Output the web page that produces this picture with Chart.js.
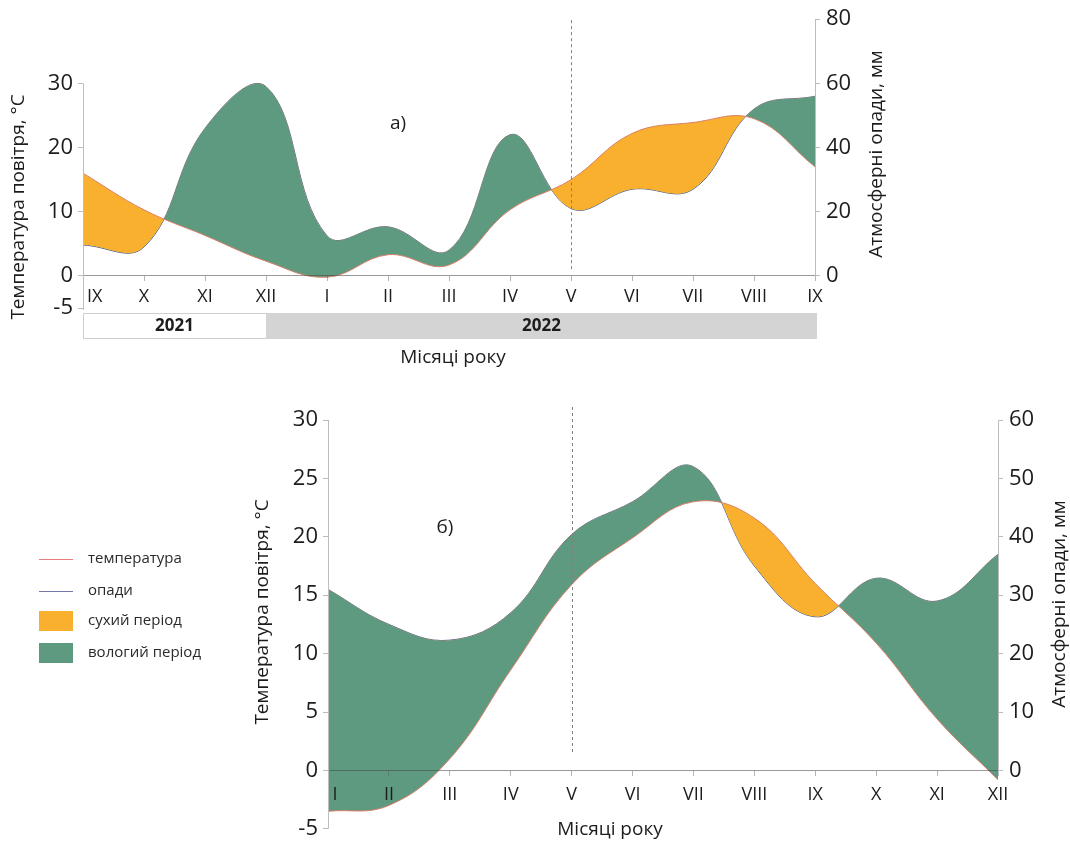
<!DOCTYPE html>
<html>
<head>
<meta charset="utf-8">
<script src="https://cdn.jsdelivr.net/npm/chart.js@4.4.0/dist/chart.umd.min.js"></script>
<style>
html,body{margin:0;padding:0;background:#fff;}
body{width:1070px;height:848px;position:relative;overflow:hidden;}
canvas{position:absolute;left:0;}
#ca{top:0;}
#cb{top:380px;}
</style>
</head>
<body>
<canvas id="ca" width="1070" height="380" style="width:1070px;height:380px"></canvas>
<canvas id="cb" width="1070" height="468" style="width:1070px;height:468px"></canvas>
<script>
// ---------- data ----------
const monthsA = ['IX','X','XI','XII','I','II','III','IV','V','VI','VII','VIII','IX'];
const tempA   = [16.0, 10.3, 6.3, 2.3, -0.2, 3.3, 1.7, 10.3, 15.0, 22.2, 23.9, 24.5, 17.0];
const precA   = [9.6, 9.0, 46, 59, 12.5, 15.3, 8.0, 44, 21, 27, 27, 52, 56];
const tempTicksA = [-5, 0, 10, 20, 30];
const precTicksA = [0, 20, 40, 60, 80];
const yearsA = ['2021', '2022'];
const yearStartIdx = [0, 3];

const monthsB = ['I','II','III','IV','V','VI','VII','VIII','IX','X','XI','XII'];
const tempB   = [-3.5, -3.0, 1.0, 8.6, 15.9, 19.9, 23.0, 21.6, 16.0, 10.9, 4.4, -0.8];
const precB   = [31, 25, 22.3, 27, 40.4, 46, 52, 35, 26.3, 32.9, 29, 37];
const tempTicksB = [-5, 0, 5, 10, 15, 20, 25, 30];
const precTicksB = [0, 10, 20, 30, 40, 50, 60];

const legendItems = ['температура', 'опади', 'сухий період', 'вологий період'];

// ---------- style ----------
const FONT = "'Open Sans', 'DejaVu Sans', sans-serif";
const ORANGE = '#F8B02E';
const GREEN = '#5E9A80';
const TEMP_LINE = '#D9806A';
const PREC_LINE = '#5A5C8A';
const AXIS = '#bdbdbd';
const TEXT = '#1c1c1c';

function seg(ctx, x0, y0, x1, y1) {
  ctx.beginPath(); ctx.moveTo(x0, y0); ctx.lineTo(x1, y1); ctx.stroke();
}
function vtext(ctx, text, cx, cy, size) {
  ctx.save();
  ctx.translate(cx, cy); ctx.rotate(-Math.PI / 2);
  ctx.font = size + 'px ' + FONT; ctx.fillStyle = TEXT;
  ctx.textAlign = 'center'; ctx.textBaseline = 'middle';
  ctx.fillText(text, 0, 0);
  ctx.restore();
}
function htext(ctx, text, cx, cy, size, bold) {
  ctx.save();
  ctx.font = (bold ? 'bold ' : '') + size + 'px ' + FONT; ctx.fillStyle = TEXT;
  ctx.textAlign = 'center'; ctx.textBaseline = 'middle';
  ctx.fillText(text, cx, cy);
  ctx.restore();
}

const decoPlugin = {
  id: 'deco',
  afterDraw(chart, args, opts) { if (opts && opts.fn) opts.fn(chart); }
};

function makeChart(canvas, c) {
  return new Chart(canvas, {
    type: 'line',
    data: {
      labels: c.labels,
      datasets: [
        { label: 'температура', data: c.temp, yAxisID: 'y', borderColor: TEMP_LINE, borderWidth: 1,
          pointRadius: 0, tension: 0.4, fill: { target: 1, above: ORANGE, below: GREEN } },
        { label: 'опади', data: c.prec, yAxisID: 'y1', borderColor: PREC_LINE, borderWidth: 1,
          pointRadius: 0, tension: 0.4, fill: false }
      ]
    },
    options: {
      responsive: false, animation: false, devicePixelRatio: 1,
      layout: { padding: { left: 0, right: 0, top: c.area.top, bottom: canvas.height - c.area.bottom } },
      plugins: { legend: { display: false }, tooltip: { enabled: false }, deco: { fn: c.deco } },
      scales: {
        x: {
          position: { y: 0 }, offset: false,
          grid: { display: true, drawOnChartArea: false, tickLength: 5, color: 'rgba(90,90,90,0.45)', z: 1 },
          border: { display: true, color: 'rgba(70,70,70,0.55)', width: 1, z: 1 },
          ticks: { autoSkip: false, maxRotation: 0, padding: c.xPad, color: TEXT, z: 1,
                   font: { family: FONT, size: 18 },
                   callback: (v, i) => (i === 0 ? ' '.repeat(c.firstPad) : '') + c.labels[i] }
        },
        y: {
          position: 'left', min: c.tMin, max: c.tMax,
          afterBuildTicks: s => { s.ticks = c.tTicks.map(v => ({ value: v })); },
          afterFit: s => { s.width = c.area.left; },
          grid: { drawOnChartArea: false, tickLength: 5, color: AXIS },
          border: { display: false },
          ticks: { padding: 5, color: TEXT, font: { family: FONT, size: 22 } }
        },
        y1: {
          position: 'right', min: c.pMin, max: c.pMax,
          afterBuildTicks: s => { s.ticks = c.pTicks.map(v => ({ value: v })); },
          afterFit: s => { s.width = canvas.width - c.area.right; },
          grid: { drawOnChartArea: false, tickLength: 5, color: AXIS },
          border: { display: false },
          ticks: { padding: 6, color: TEXT, font: { family: FONT, size: 22 } }
        }
      }
    },
    plugins: [decoPlugin]
  });
}

// ---------- chart а ----------
makeChart(document.getElementById('ca'), {
  labels: monthsA, temp: tempA, prec: precA,
  tMin: -5, tMax: 40, pMin: -10, pMax: 80,
  tTicks: tempTicksA, pTicks: precTicksA,
  area: { left: 83, right: 815, top: 19, bottom: 308 },
  xPad: 5, firstPad: 5,
  deco(chart) {
    const ctx = chart.ctx, a = chart.chartArea, { x, y, y1 } = chart.scales;
    ctx.save();
    ctx.strokeStyle = AXIS; ctx.lineWidth = 1;
    seg(ctx, a.left + 0.5, y.getPixelForValue(tempTicksA[tempTicksA.length - 1]), a.left + 0.5, y.getPixelForValue(tempTicksA[0]) + 2);
    seg(ctx, a.right + 0.5, y1.getPixelForValue(precTicksA[precTicksA.length - 1]), a.right + 0.5, y1.getPixelForValue(0));
    // dashed line at V
    const xv = Math.round(x.getPixelForValue(8)) + 0.5;
    ctx.strokeStyle = '#808080'; ctx.setLineDash([3, 3]);
    seg(ctx, xv, a.top + 1, xv, y.getPixelForValue(0) - 6);
    ctx.setLineDash([]);
    // year bars
    const top = a.bottom + 5, h = 26;
    const xs = [x.getPixelForValue(yearStartIdx[0]), x.getPixelForValue(yearStartIdx[1]), x.getPixelForValue(monthsA.length - 1) + 2];
    ctx.fillStyle = '#ffffff'; ctx.strokeStyle = '#cfcfcf';
    ctx.fillRect(xs[0], top, xs[1] - xs[0], h);
    ctx.strokeRect(xs[0] + 0.5, top + 0.5, xs[1] - xs[0], h - 1);
    ctx.fillStyle = '#d4d4d4';
    ctx.fillRect(xs[1], top, xs[2] - xs[1], h);
    ctx.restore();
    htext(ctx, yearsA[0], (xs[0] + xs[1]) / 2, top + h / 2, 17, true);
    htext(ctx, yearsA[1], (xs[1] + xs[2]) / 2, top + h / 2, 17, true);
    htext(ctx, 'Місяці року', 453, 358, 19);
    htext(ctx, 'а)', 398, 124, 19);
    vtext(ctx, 'Температура повітря, °C', 19, 207, 19);
    vtext(ctx, 'Атмосферні опади, мм', 877, 154, 19);
  }
});

// ---------- chart б ----------
makeChart(document.getElementById('cb'), {
  labels: monthsB, temp: tempB, prec: precB,
  tMin: -5, tMax: 30, pMin: -10, pMax: 60,
  tTicks: tempTicksB, pTicks: precTicksB,
  area: { left: 328, right: 998, top: 40, bottom: 460 },
  xPad: 9, firstPad: 3,
  deco(chart) {
    const ctx = chart.ctx, a = chart.chartArea, { x, y, y1 } = chart.scales;
    ctx.save();
    ctx.strokeStyle = AXIS; ctx.lineWidth = 1;
    seg(ctx, a.left + 0.5, y.getPixelForValue(tempTicksB[tempTicksB.length - 1]), a.left + 0.5, y.getPixelForValue(tempTicksB[0]));
    seg(ctx, a.right + 0.5, y1.getPixelForValue(precTicksB[precTicksB.length - 1]), a.right + 0.5, y1.getPixelForValue(0) + 4);
    const xv = Math.round(x.getPixelForValue(4)) + 0.5;
    ctx.strokeStyle = '#808080'; ctx.setLineDash([3, 3]);
    seg(ctx, xv, a.top - 13, xv, y.getPixelForValue(0) - 18);
    ctx.setLineDash([]);
    // legend
    const lx0 = 39, lx1 = 73, tx = 88;
    const rows = [179, 211, 241, 273];
    ctx.lineWidth = 1;
    ctx.strokeStyle = '#E57E7A'; seg(ctx, lx0, rows[0] + 0.5, lx1, rows[0] + 0.5);
    ctx.strokeStyle = '#7477AA'; seg(ctx, lx0, rows[1] + 0.5, lx1, rows[1] + 0.5);
    ctx.fillStyle = ORANGE; ctx.fillRect(lx0, rows[2] - 10, lx1 - lx0, 20);
    ctx.fillStyle = GREEN; ctx.fillRect(lx0, rows[3] - 10, lx1 - lx0, 20);
    ctx.font = '15px ' + FONT; ctx.fillStyle = '#2a2a2a';
    ctx.textAlign = 'left'; ctx.textBaseline = 'middle';
    legendItems.forEach((t, i) => ctx.fillText(t, tx, rows[i]));
    ctx.restore();
    htext(ctx, 'Місяці року', 610, 450, 19);
    htext(ctx, 'б)', 445, 148, 19);
    vtext(ctx, 'Температура повітря, °C', 263, 232, 19);
    vtext(ctx, 'Атмосферні опади, мм', 1060, 224, 19);
  }
});
</script>
</body>
</html>
